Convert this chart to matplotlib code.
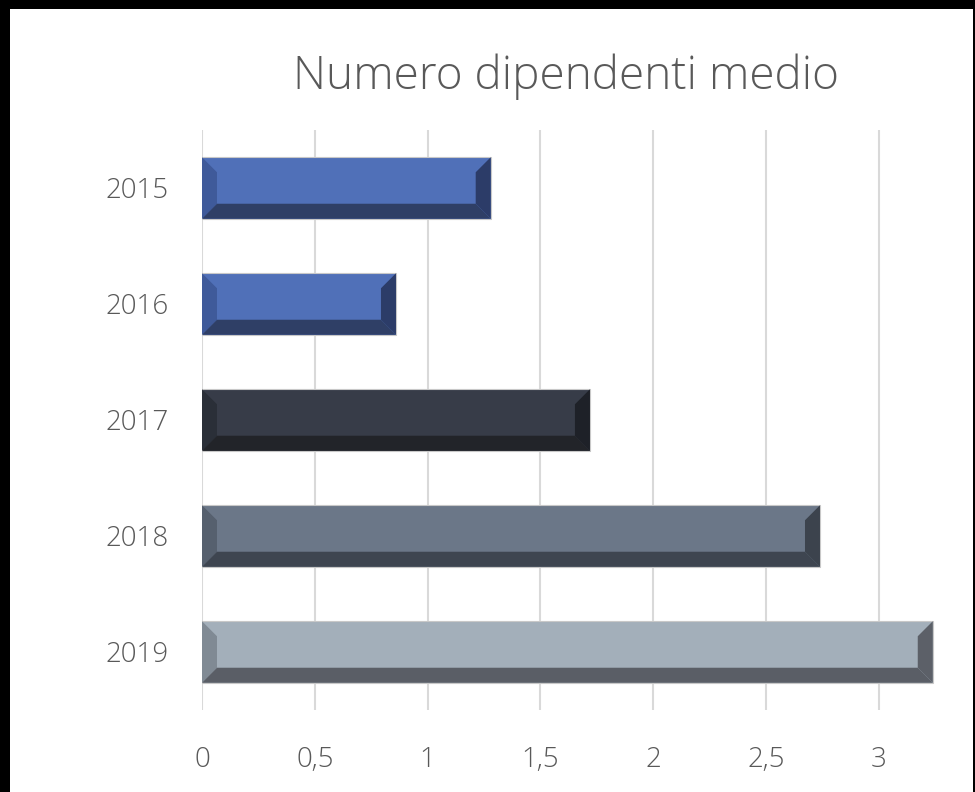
import matplotlib
matplotlib.use("Agg")
import matplotlib.pyplot as plt
from matplotlib.patches import Rectangle

years = ["2015", "2016", "2017", "2018", "2019"]
values = [1.28, 0.86, 1.72, 2.74, 3.24]
face_cols = ["#5070B8", "#5070B8", "#373C48", "#6B7788", "#A3AFBA"]
left_cols = ["#3F5A9A", "#3F5A9A", "#2A2F38", "#56606E", "#808A94"]
bottom_cols = ["#2F3F66", "#2F3F66", "#222429", "#3E4550", "#5A5E66"]
right_cols = ["#2C3C68", "#2C3C68", "#1E2128", "#3C434D", "#5C6068"]
xticks = [0, 0.5, 1, 1.5, 2, 2.5, 3]
xtick_labels = ["0", "0,5", "1", "1,5", "2", "2,5", "3"]

plt.rcParams["font.family"] = ["Open Sans", "DejaVu Sans"]
txt = "#595959"

W, H = 975, 792
fig = plt.figure(figsize=(W / 100, H / 100), dpi=100, facecolor="black")
fig.patches.append(Rectangle((10 / W, 0), 963 / W, 1 - 9 / H,
                             transform=fig.transFigure, facecolor="white",
                             edgecolor="none", zorder=-5))

ax = fig.add_axes([202 / W, 82 / H, 733 / W, 580 / H])
ax.set_zorder(2)
ax.set_facecolor("none")
ax.set_xlim(0, 3.25)
ax.set_ylim(-0.5, 4.5)
ax.invert_yaxis()

for s in ax.spines.values():
    s.set_visible(False)
ax.set_xticks(xticks)
ax.set_xticklabels(xtick_labels)
ax.set_yticks(range(len(years)))
ax.set_yticklabels(years)
ax.tick_params(length=0, labelsize=20, labelcolor=txt, pad=0)
ax.tick_params(axis="x", pad=26)
ax.tick_params(axis="y", pad=24)
for lab in ax.get_xticklabels() + ax.get_yticklabels():
    lab.set_fontweight("light")
ax.grid(axis="x", color="#D9D9D9", linewidth=1.5)
ax.set_axisbelow(True)

h = 0.53
dx = 15 / 225.7
dy = 15 / 116
for i, v in enumerate(values):
    top, bot = i - h / 2, i + h / 2
    ax.barh(i, v, height=h, color=face_cols[i], edgecolor="#C8C8C8", linewidth=0.8, zorder=2)
    ax.fill([0, dx, dx, 0], [top, top + dy, bot - dy, bot], color=left_cols[i], lw=0, zorder=3)
    ax.fill([0, dx, v - dx, v], [bot, bot - dy, bot - dy, bot], color=bottom_cols[i], lw=0, zorder=3)
    ax.fill([v, v - dx, v - dx, v], [top, top + dy, bot - dy, bot], color=right_cols[i], lw=0, zorder=3)

fig.text(566 / W, 1 - 77 / H, "Numero dipendenti medio", ha="center", va="center",
         fontsize=33, color=txt, fontweight="light")

fig.savefig("out.png", dpi=100, facecolor="black")
